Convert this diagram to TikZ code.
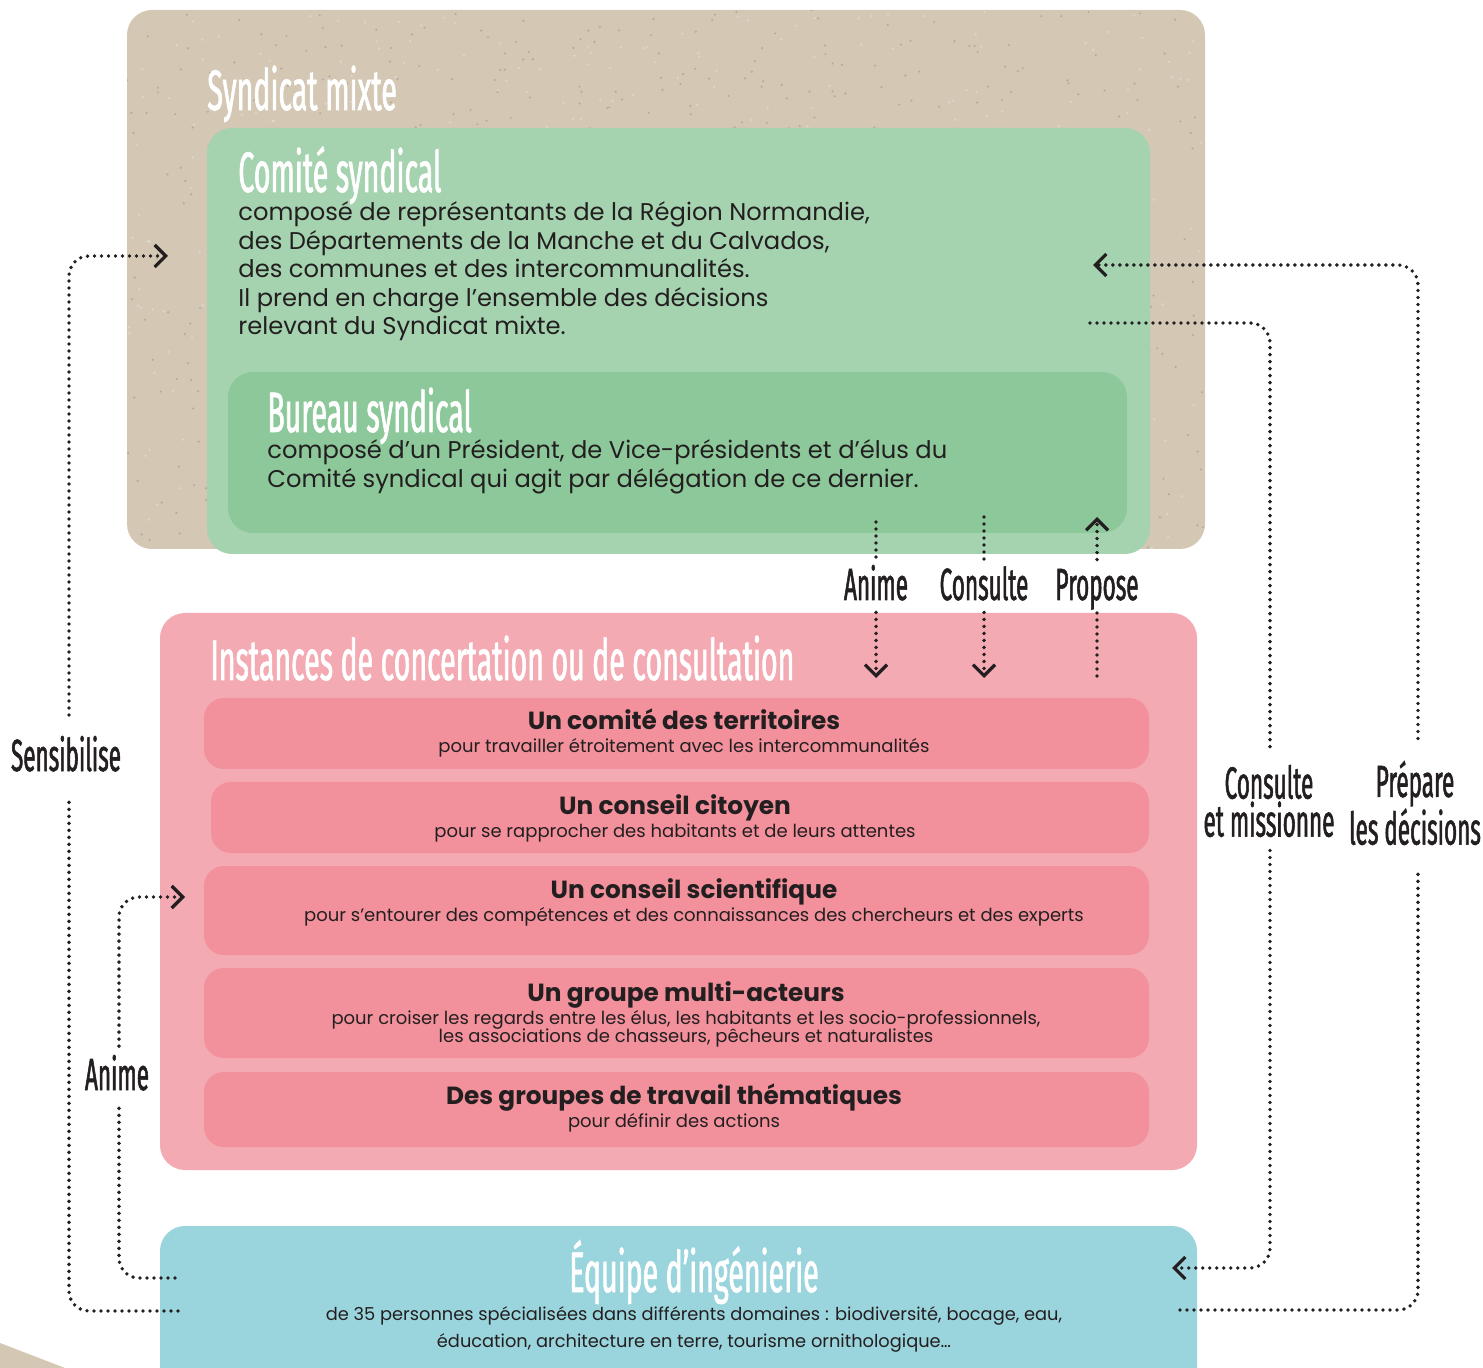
\documentclass[tikz,border=0pt]{standalone}
\usepackage{fontspec}
\setmainfont{Poppins}
\newfontfamily\hand{Fira Sans}[FakeStretch=0.5,FakeBold=1.2]
\usetikzlibrary{arrows.meta}
\definecolor{beige}{HTML}{D4C7B4}
\definecolor{comgreen}{HTML}{A5D3B0}
\definecolor{burgreen}{HTML}{8CC89A}
\definecolor{pinkout}{HTML}{F4AAB3}
\definecolor{pinkin}{HTML}{F2909B}
\definecolor{bluebox}{HTML}{9AD4DC}
\definecolor{ink}{HTML}{231F20}
\begin{document}
\begin{tikzpicture}[x=0.5pt,y=-0.5pt,
  box/.style={anchor=north west, inner sep=0pt, outer sep=0pt, rounded corners=12.5pt},
  ibox/.style={anchor=north west, inner sep=0pt, outer sep=0pt, rounded corners=10pt, fill=pinkin},
  bigtitle/.style={anchor=base west, inner sep=0pt, text=white, font=\hand\fontsize{28.5}{30}\selectfont},
  bodytxt/.style={anchor=base west, inner sep=0pt, text=ink, font=\fontsize{12.1}{14.25}\selectfont},
  btitle/.style={anchor=base, inner sep=0pt, text=ink, font=\bfseries\fontsize{12.4}{14}\selectfont},
  bsub/.style={anchor=base, inner sep=0pt, text=ink, font=\fontsize{9}{8.5}\selectfont},
  lbl/.style={text=ink, font=\hand\fontsize{22.5}{19}\selectfont, inner xsep=1pt, align=center},
  lbl1/.style={lbl, text height=16pt, text depth=2pt},
  dots/.style={draw=ink, line width=1.9pt, line cap=round, dash pattern=on 0pt off 3.5pt, rounded corners=10pt},
  tip/.style={-{Straight Barb[length=5.5pt,width=11pt,line width=1.6pt]}}
]
\useasboundingbox (0,0) rectangle (1483,1368);
\clip (0,0) rectangle (1483,1368);

% background wedge
\fill[beige] (0,1343) -- (65,1368) -- (0,1368) -- cycle;

% boxes
\node[box, fill=beige, minimum width=539pt, minimum height=269.5pt] (syndicat) at (127,10) {};
\begin{scope}
  \clip[rounded corners=12.5pt] (127,10) rectangle (1205,549);
  \pgfmathsetseed{7}
  \foreach \i in {1,...,700}{
    \pgfmathsetmacro{\px}{127+1078*rnd}
    \pgfmathsetmacro{\py}{10+539*rnd}
    \fill[black!55!beige, opacity=0.25] (\px,\py) circle (0.6pt);
  }
  \foreach \i in {1,...,500}{
    \pgfmathsetmacro{\px}{127+1078*rnd}
    \pgfmathsetmacro{\py}{10+539*rnd}
    \fill[white, opacity=0.25] (\px,\py) circle (0.7pt);
  }
\end{scope}
\node[box, fill=comgreen, minimum width=471.5pt, minimum height=213pt] (comite) at (207,128) {};
\node[box, fill=burgreen, minimum width=449.5pt, minimum height=80.5pt] (bureau) at (228,372) {};
\node[box, fill=pinkout, minimum width=518.5pt, minimum height=278.5pt] (instances) at (160,613) {};
\node[ibox, minimum width=472.5pt, minimum height=35.5pt] (b1) at (204,698) {};
\node[ibox, minimum width=469pt, minimum height=35.5pt] (b2) at (211,782) {};
\node[ibox, minimum width=472.5pt, minimum height=44.5pt] (b3) at (204,866) {};
\node[ibox, minimum width=472.5pt, minimum height=45pt] (b4) at (204,968) {};
\node[ibox, minimum width=472.5pt, minimum height=37.5pt] (b5) at (204,1072) {};
\node[box, fill=bluebox, minimum width=518.5pt, minimum height=90pt] (equipe) at (160,1226) {};

% titles
\node[bigtitle] (tSynd) at (207,110) {Syndicat mixte};
\node[bigtitle] (tCom) at (238,192) {Comité syndical};
\node[bigtitle] (tBur) at (267,432) {Bureau syndical};
\node[bigtitle] (tInst) at (210,680) {Instances de concertation ou de consultation};
\node[bigtitle, anchor=base] (tEq) at (694,1292) {Équipe d’ingénierie};

% body texts
\node[bodytxt] (xCom) at (238,221) {\begin{tabular}[t]{@{}l@{}}composé de représentants de la Région Normandie,\\des Départements de la Manche et du Calvados,\\des communes et des intercommunalités.\\Il prend en charge l’ensemble des décisions\\relevant du Syndicat mixte.\end{tabular}};
\node[bodytxt] (xBur) at (267,459) {\begin{tabular}[t]{@{}l@{}}composé d’un Président, de Vice-présidents et d’élus du\\Comité syndical qui agit par délégation de ce dernier.\end{tabular}};

\node[btitle] (t1) at (684,730) {Un comité des territoires};
\node[bsub] (s1) at (684,753) {pour travailler étroitement avec les intercommunalités};
\node[btitle] (t2) at (675,814) {Un conseil citoyen};
\node[bsub] (s2) at (675,837) {pour se rapprocher des habitants et de leurs attentes};
\node[btitle] (t3) at (694,898) {Un conseil scientifique};
\node[bsub] (s3) at (694,921) {pour s’entourer des compétences et des connaissances des chercheurs et des experts};
\node[btitle] (t4) at (686,1001) {Un groupe multi-acteurs};
\node[bsub] (s4) at (686,1024) {\begin{tabular}[t]{@{}c@{}}pour croiser les regards entre les élus, les habitants et les socio-professionnels,\\les associations de chasseurs, pêcheurs et naturalistes\end{tabular}};
\node[btitle] (t5) at (674,1104) {Des groupes de travail thématiques};
\node[bsub] (s5) at (674,1127) {pour définir des actions};

\node[bodytxt, anchor=base, font=\fontsize{8.9}{13.5}\selectfont] (xEq) at (694,1320) {\begin{tabular}[t]{@{}c@{}}de 35 personnes spécialisées dans différents domaines : biodiversité, bocage, eau,\\éducation, architecture en terre, tourisme ornithologique…\end{tabular}};

% labels
\node[lbl1, inner ysep=4pt] (lAn1) at (876,586) {Anime};
\node[lbl1, inner ysep=4pt] (lCons) at (984,586) {Consulte};
\node[lbl1, inner ysep=4pt] (lProp) at (1097,586) {Propose};
\node[lbl1, inner ysep=11.75pt] (lSens) at (66,757) {Sensibilise};
\node[lbl1, inner ysep=5.75pt] (lAn2) at (117,1076) {Anime};
\node[lbl, inner ysep=6.5pt] (lCM) at (1269,801) {Consulte\\et missionne};
\node[lbl, inner ysep=11pt] (lPrep) at (1415,803) {Prépare\\les décisions};

% coordinates
\coordinate (a1s) at (876,522);
\coordinate (a1e) at (876,678);
\coordinate (c1s) at (984,517);
\coordinate (c1e) at (984,678);
\coordinate (p1s) at (1097,676);
\coordinate (p1e) at (1097,517);
\coordinate (sensS) at (178,1311);
\coordinate (sensE) at (168,256);
\coordinate (an2S) at (175,1278);
\coordinate (an2E) at (185,897);
\coordinate (cmS) at (1090,323);
\coordinate (cmE) at (1172,1268);
\coordinate (prS) at (1180,1310);
\coordinate (prE) at (1093,265);

% connectors
\draw[dots] (a1s) -- (lAn1.north);
\draw[dots,tip] (lAn1.south) -- (a1e);
\draw[dots] (c1s) -- (lCons.north);
\draw[dots,tip] (lCons.south) -- (c1e);
\draw[dots] (p1s) -- (lProp.south);
\draw[dots,tip] (lProp.north) -- (p1e);

\draw[dots] (sensS) -| ([xshift=1.5pt]lSens.south);
\draw[dots,tip] ([xshift=1.5pt]lSens.north) |- (sensE);
\draw[dots] (an2S) -| ([xshift=1pt]lAn2.south);
\draw[dots,tip] ([xshift=1pt]lAn2.north) |- (an2E);
\draw[dots] (cmS) -| ([xshift=0.5pt]lCM.north);
\draw[dots,tip] ([xshift=0.5pt]lCM.south) |- (cmE);
\draw[dots] (prS) -| ([xshift=1.5pt]lPrep.south);
\draw[dots,tip] ([xshift=1.5pt]lPrep.north) |- (prE);
\end{tikzpicture}
\end{document}
